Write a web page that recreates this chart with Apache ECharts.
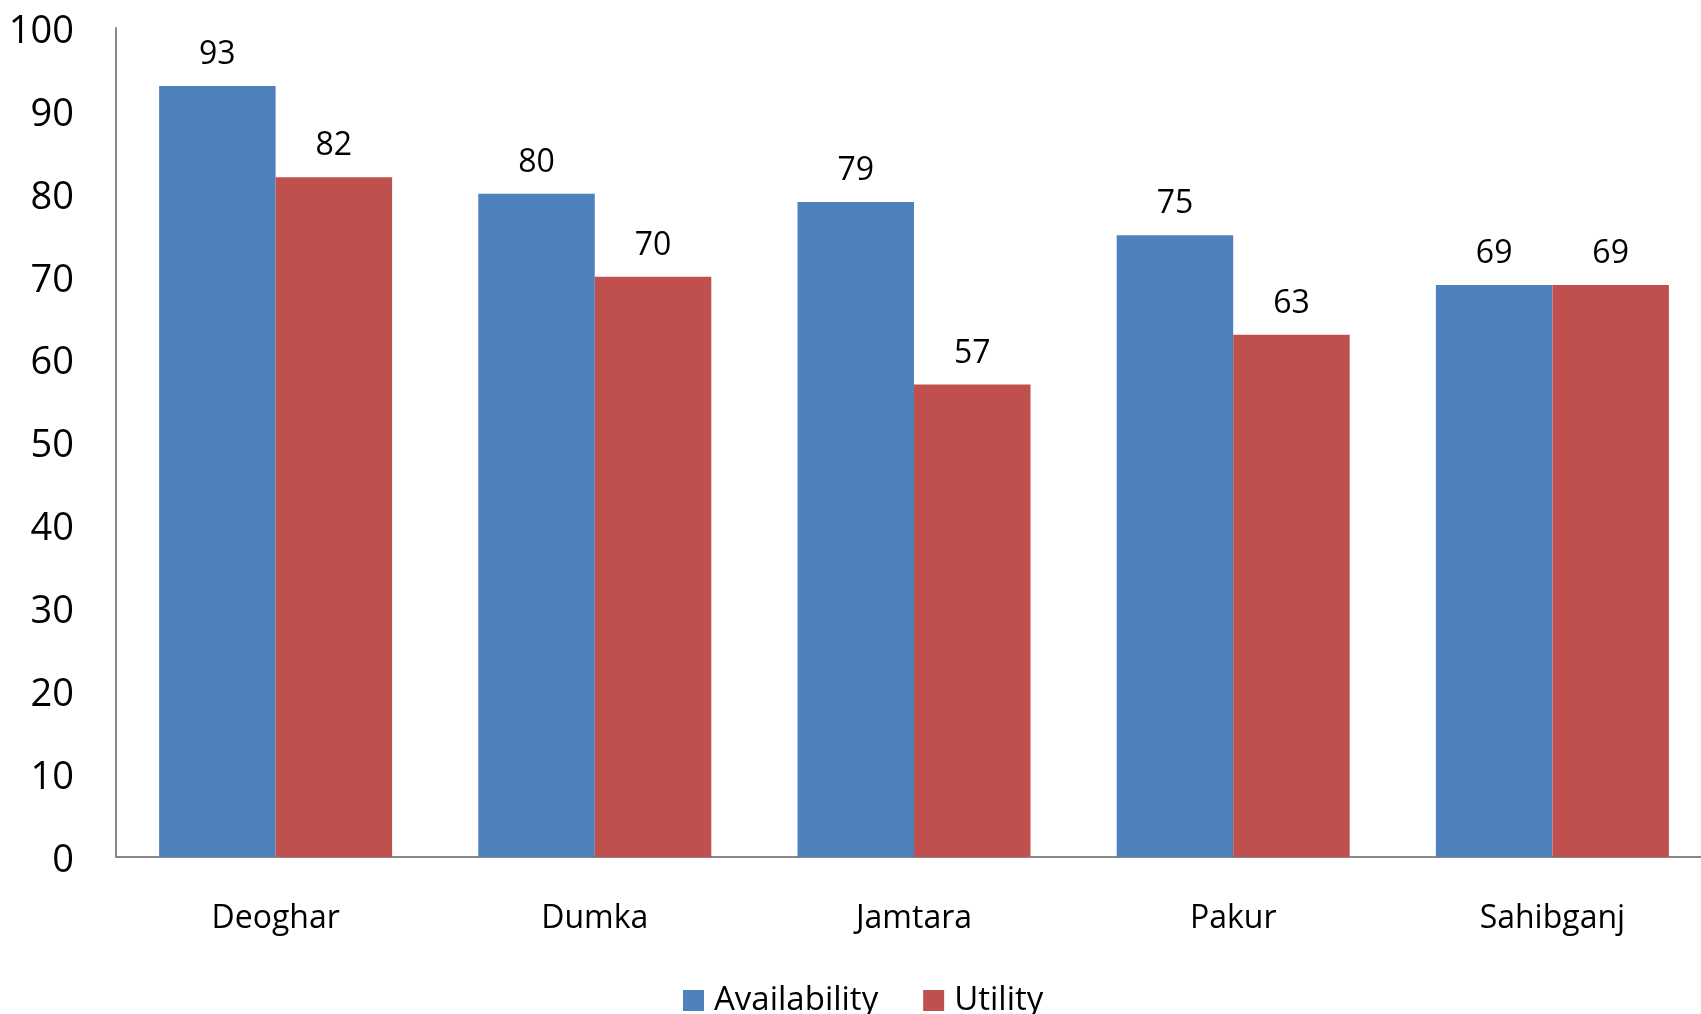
<!DOCTYPE html>
<html>
<head>
<meta charset="utf-8">
<script src="https://cdn.jsdelivr.net/npm/echarts@6/dist/echarts.min.js"></script>
<style>html,body{margin:0;padding:0;background:#fff;overflow:hidden;}#c{width:1730px;height:1014px;}</style>
</head>
<body>
<div id="c"></div>
<script>
const categories = ['Deoghar', 'Dumka', 'Jamtara', 'Pakur', 'Sahibganj'];
const availability = [93, 80, 79, 75, 69];
const utility = [82, 70, 57, 63, 69];
const seriesNames = ['Availability', 'Utility'];

const chart = echarts.init(document.getElementById('c'), null, {renderer: 'canvas'});
const font = '"Open Sans", "Noto Sans", sans-serif';
chart.setOption({
  animation: false,
  backgroundColor: '#ffffff',
  textStyle: {fontFamily: font, color: '#000'},
  grid: {left: 116, top: 28, width: 1596, height: 829},
  legend: {
    data: seriesNames,
    left: 678,
    top: 979,
    itemWidth: 21,
    itemHeight: 21,
    itemGap: 45,
    icon: 'rect',
    textStyle: {fontFamily: font, fontSize: 33, color: '#000', padding: [0, 0, 0, 5]}
  },
  xAxis: {
    type: 'category',
    data: categories,
    axisLine: {lineStyle: {color: '#898989', width: 2}},
    axisTick: {show: false},
    axisLabel: {fontFamily: font, fontSize: 32, color: '#000', margin: 46}
  },
  yAxis: {
    type: 'value',
    min: 0,
    max: 100,
    interval: 10,
    axisLine: {show: true, lineStyle: {color: '#898989', width: 2}},
    axisTick: {show: false},
    splitLine: {show: false},
    axisLabel: {fontFamily: font, fontSize: 38, color: '#000', margin: 42, verticalAlign: 'top', lineHeight: 8}
  },
  series: [
    {
      name: seriesNames[0],
      type: 'bar',
      data: availability,
      barGap: '0%',
      barCategoryGap: '27%',
      itemStyle: {color: '#4F81BD'},
      label: {show: true, position: 'top', distance: 15, fontFamily: font, fontSize: 32, color: '#000'}
    },
    {
      name: seriesNames[1],
      type: 'bar',
      data: utility,
      barGap: '0%',
      barCategoryGap: '27%',
      itemStyle: {color: '#C0504D'},
      label: {show: true, position: 'top', distance: 15, fontFamily: font, fontSize: 32, color: '#000'}
    }
  ]
});
</script>
</body>
</html>
